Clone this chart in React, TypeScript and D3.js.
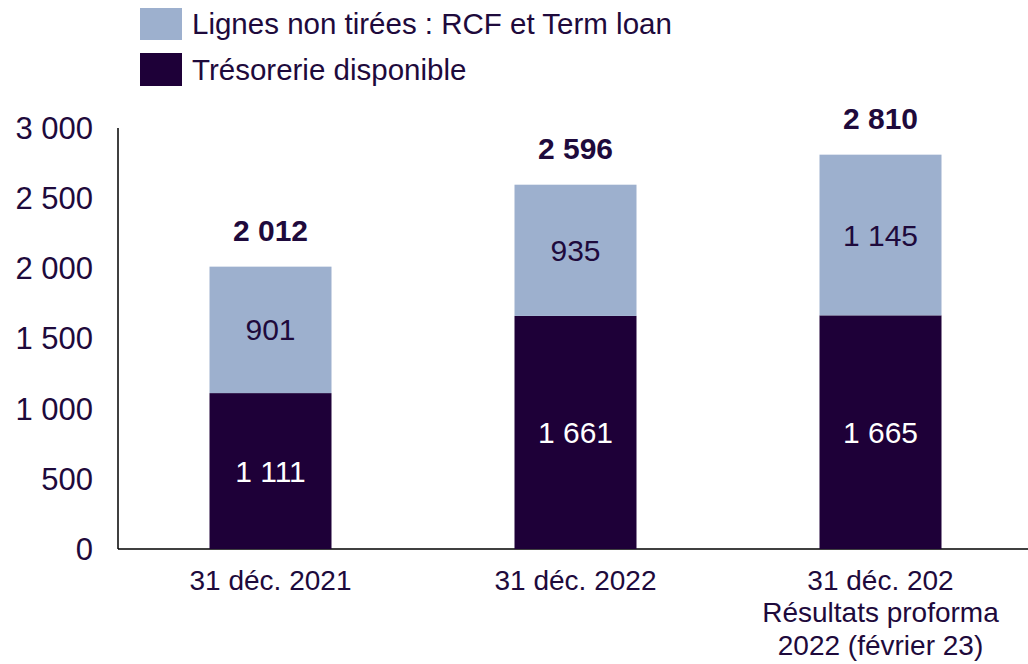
import React from "react";
import * as d3 from "d3";

const categories = ["31 déc. 2021", "31 déc. 2022", "31 déc. 202\nRésultats proforma\n2022 (février 23)"];
const tresorerie = [1111, 1661, 1665];
const lignes = [901, 935, 1145];
const totals = [2012, 2596, 2810];
const yTicks = [0, 500, 1000, 1500, 2000, 2500, 3000];

const DARK = "#1e0038";
const LIGHT = "#9db0ce";
const TEXT = "#1e0a3c";
const SANS = "'Liberation Sans', Arial, sans-serif";

const fmt = (v: number) => d3.format(",")(v).replace(/,/g, " ");

const App: React.FC = () => {
    const width = 1028;
    const height = 664;

    const x = d3
        .scaleBand<number>()
        .domain(d3.range(categories.length))
        .range([118, 1033])
        .paddingInner(0.6)
        .paddingOuter(0.3);

    const y = d3.scaleLinear().domain([0, 3000]).range([549, 128]);
    const bw = x.bandwidth();

    return (
        <svg width={width} height={height} style={{ position: "absolute", left: 0, top: 0 }}>
            {/* Legend */}
            <rect x={140} y={8} width={42} height={32} fill={LIGHT} />
            <text x={192} y={24} dy="0.35em" fontFamily={SANS} fontSize={29.5} fill={TEXT}>
                Lignes non tirées : RCF et Term loan
            </text>
            <rect x={140} y={53} width={42} height={33} fill={DARK} />
            <text x={192} y={70} dy="0.35em" fontFamily={SANS} fontSize={29.5} fill={TEXT}>
                Trésorerie disponible
            </text>

            {/* Axes */}
            <line x1={118} x2={118} y1={y(3000)} y2={y(0)} stroke="#000" strokeWidth={1.5} />
            <line x1={118} x2={1028} y1={y(0)} y2={y(0)} stroke="#000" strokeWidth={1.5} />
            {yTicks.map(t => (
                <text
                    key={t}
                    x={93}
                    y={y(t)}
                    dy="0.35em"
                    textAnchor="end"
                    fontFamily={SANS}
                    fontSize={31}
                    fill={TEXT}
                >
                    {fmt(t)}
                </text>
            ))}

            {/* Bars */}
            {categories.map((c, i) => {
                const x0 = x(i) as number;
                const cx = x0 + bw / 2;
                const top = tresorerie[i] + lignes[i];
                return (
                    <g key={i}>
                        <rect x={x0} y={y(tresorerie[i])} width={bw} height={y(0) - y(tresorerie[i])} fill={DARK} />
                        <rect x={x0} y={y(top)} width={bw} height={y(tresorerie[i]) - y(top)} fill={LIGHT} />
                        <text
                            x={cx}
                            y={(y(0) + y(tresorerie[i])) / 2}
                            dy="0.35em"
                            textAnchor="middle"
                            fontFamily={SANS}
                            fontSize={30}
                            fill="#fff"
                        >
                            {fmt(tresorerie[i])}
                        </text>
                        <text
                            x={cx}
                            y={(y(tresorerie[i]) + y(top)) / 2}
                            dy="0.35em"
                            textAnchor="middle"
                            fontFamily={SANS}
                            fontSize={30}
                            fill={TEXT}
                        >
                            {fmt(lignes[i])}
                        </text>
                        <text
                            x={cx}
                            y={y(totals[i]) - 36}
                            dy="0.35em"
                            textAnchor="middle"
                            fontFamily={SANS}
                            fontWeight="bold"
                            fontSize={30}
                            fill={TEXT}
                        >
                            {fmt(totals[i])}
                        </text>
                        {c.split("\n").map((line, j) => (
                            <text
                                key={j}
                                x={cx}
                                y={580 + j * 32.5}
                                dy="0.35em"
                                textAnchor="middle"
                                fontFamily={SANS}
                                fontSize={28}
                                fill={TEXT}
                            >
                                {line}
                            </text>
                        ))}
                    </g>
                );
            })}
        </svg>
    );
};

export default App;
